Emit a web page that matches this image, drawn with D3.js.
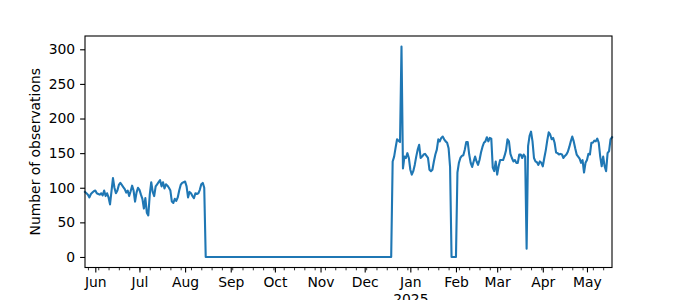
<!DOCTYPE html>
<html>
<head>
<meta charset="utf-8">
<script src="https://cdn.jsdelivr.net/npm/d3@7"></script>
<style>
  body { margin: 0; background: #fff; }
  svg { display: block; font-family: "DejaVu Sans", sans-serif; }
</style>
</head>
<body>
<div id="chart"></div>
<script>
// first day of the series, one value per day after that
const startDate = "2024-05-25";

// 25 May - 15 Aug 2024
const summerValues = [
  94, 92, 90, 86, 91, 93, 95, 96, 92, 91, 90, 92, 89, 96, 88, 92, 86, 76, 95, 114,
  100, 92, 96, 104, 107, 104, 101, 98, 93, 96, 88, 95, 103, 96, 80, 93, 100, 97, 90, 84,
  70, 85, 64, 60, 90, 108, 94, 88, 102, 105, 108, 111, 102, 108, 99, 105, 103, 100, 96, 80,
  78, 84, 81, 86, 96, 104, 107, 108, 109, 102, 86, 94, 92, 88, 85, 92, 91, 92, 97, 105,
  107, 100,
];

// 15 Aug - 19 Dec 2024, nothing recorded
const gapValues = [
  0, 0, 0, 0, 0, 0, 0, 0, 0, 0, 0, 0, 0, 0, 0, 0, 0, 0, 0, 0,
  0, 0, 0, 0, 0, 0, 0, 0, 0, 0, 0, 0, 0, 0, 0, 0, 0, 0, 0, 0,
  0, 0, 0, 0, 0, 0, 0, 0, 0, 0, 0, 0, 0, 0, 0, 0, 0, 0, 0, 0,
  0, 0, 0, 0, 0, 0, 0, 0, 0, 0, 0, 0, 0, 0, 0, 0, 0, 0, 0, 0,
  0, 0, 0, 0, 0, 0, 0, 0, 0, 0, 0, 0, 0, 0, 0, 0, 0, 0, 0, 0,
  0, 0, 0, 0, 0, 0, 0, 0, 0, 0, 0, 0, 0, 0, 0, 0, 0, 0, 0, 0,
  0, 0, 0, 0, 0, 0, 0,
];

// 20 Dec 2024 - 18 May 2025
const winterValues = [
  138, 145, 158, 170, 168, 166, 304, 128, 145, 143, 150, 143, 126, 119, 124, 133, 145, 155, 162, 143,
  145, 148, 149, 146, 143, 126, 124, 126, 138, 148, 155, 170, 167, 172, 174, 170, 167, 165, 157, 130,
  0, 0, 0, 0, 122, 136, 143, 146, 147, 155, 166, 166, 148, 136, 130, 138, 145, 138, 133, 140,
  151, 159, 165, 167, 173, 167, 172, 171, 129, 124, 138, 119, 131, 140, 140, 140, 146, 154, 170, 167,
  149, 143, 138, 140, 136, 136, 148, 148, 143, 148, 145, 12, 160, 175, 181, 167, 143, 138, 137, 133,
  138, 136, 131, 143, 154, 168, 180, 177, 170, 172, 165, 151, 150, 148, 149, 148, 143, 146, 148, 152,
  159, 167, 174, 167, 157, 148, 145, 142, 136, 140, 122, 136, 140, 149, 148, 165, 165, 168, 167, 171,
  165, 145, 131, 145, 131, 124, 150, 153, 170, 173,
];

const yTicks = [0, 50, 100, 150, 200, 250, 300];
const yLabel = "Number of observations";

// build the daily series
const allValues = summerValues.concat(gapValues, winterValues);
const day0 = new Date(startDate + "T00:00:00Z");
const data = allValues.map((v, i) => ({ date: d3.utcDay.offset(day0, i), value: v }));

const width = 680;
const height = 300;
const margin = { top: 36, right: 68, bottom: 32.5, left: 85 };
const fontSize = 13.9;
const tickLen = 4.9;
const minorLen = 2.8;
const tickPad = 4.9;

const svg = d3
  .select("#chart")
  .append("svg")
  .attr("width", width)
  .attr("height", height);

const x = d3
  .scaleUtc()
  .domain(d3.extent(data, (d) => d.date))
  .range([margin.left, width - margin.right]);

// matplotlib style 5% padding on y
const yMin = d3.min(data, (d) => d.value);
const yMax = d3.max(data, (d) => d.value);
const yPad = (yMax - yMin) * 0.05;
const y = d3
  .scaleLinear()
  .domain([yMin - yPad, yMax + yPad])
  .range([height - margin.bottom, margin.top]);

// the line
const line = d3
  .line()
  .x((d) => x(d.date))
  .y((d) => y(d.value));

svg
  .append("path")
  .datum(data)
  .attr("fill", "none")
  .attr("stroke", "#1f77b4")
  .attr("stroke-width", 2.1)
  .attr("stroke-linejoin", "round")
  .attr("stroke-linecap", "square")
  .attr("d", line);

// frame
svg
  .append("rect")
  .attr("x", margin.left)
  .attr("y", margin.top)
  .attr("width", width - margin.right - margin.left)
  .attr("height", height - margin.bottom - margin.top)
  .attr("fill", "none")
  .attr("stroke", "#000")
  .attr("stroke-width", 1.1);

// y axis
const yAxis = d3
  .axisLeft(y)
  .tickValues(yTicks)
  .tickSize(tickLen)
  .tickPadding(tickPad);

const yG = svg
  .append("g")
  .attr("transform", `translate(${margin.left},0)`)
  .call(yAxis);
yG.select(".domain").remove();
yG.selectAll("line").attr("stroke", "#000").attr("stroke-width", 1.1);
yG.selectAll("text")
  .attr("fill", "#000")
  .style("font-size", fontSize + "px")
  .style("font-family", "DejaVu Sans");

// x axis: weekly minor ticks, monthly major ticks
const xMinor = d3
  .axisBottom(x)
  .ticks(d3.utcMonday)
  .tickSize(minorLen)
  .tickFormat("");
const xMinorG = svg
  .append("g")
  .attr("transform", `translate(0,${height - margin.bottom})`)
  .call(xMinor);
xMinorG.select(".domain").remove();
xMinorG.selectAll("line").attr("stroke", "#000").attr("stroke-width", 0.8);

const xAxis = d3
  .axisBottom(x)
  .ticks(d3.utcMonth)
  .tickSize(tickLen)
  .tickPadding(tickPad)
  .tickFormat(d3.utcFormat("%b"));
const xG = svg
  .append("g")
  .attr("transform", `translate(0,${height - margin.bottom})`)
  .call(xAxis);
xG.select(".domain").remove();
xG.selectAll("line").attr("stroke", "#000").attr("stroke-width", 1.1);
xG.selectAll("text")
  .attr("fill", "#000")
  .style("font-size", fontSize + "px")
  .style("font-family", "DejaVu Sans");

// year under January
xG.selectAll(".tick")
  .filter((d) => d.getUTCMonth() === 0)
  .append("text")
  .attr("fill", "#000")
  .attr("y", tickLen + tickPad)
  .attr("dy", "1.91em")
  .attr("text-anchor", "middle")
  .style("font-size", fontSize + "px")
  .style("font-family", "DejaVu Sans")
  .text((d) => d3.utcFormat("%Y")(d));

// y label
svg
  .append("text")
  .attr("transform", `translate(35,${(margin.top + height - margin.bottom) / 2}) rotate(-90)`)
  .attr("text-anchor", "middle")
  .attr("dominant-baseline", "central")
  .style("font-size", fontSize + "px")
  .text(yLabel);
</script>
</body>
</html>
